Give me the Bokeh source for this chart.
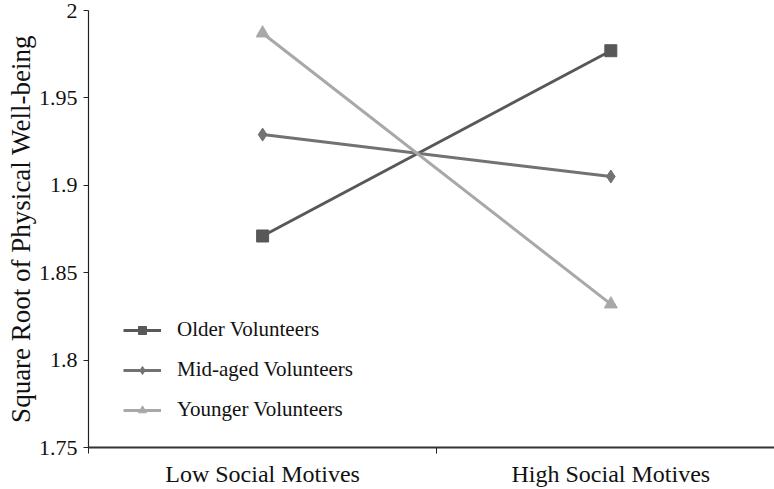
from bokeh.plotting import figure
from bokeh.models import Range1d, FixedTicker, Legend, LegendItem
from bokeh.embed import file_html
from bokeh.resources import INLINE

categories = ["Low Social Motives", "High Social Motives"]
older = [1.871, 1.977]
mid_aged = [1.929, 1.905]
younger = [1.987, 1.832]
y_ticks = [1.75, 1.8, 1.85, 1.9, 1.95, 2.0]
y_tick_labels = ["1.75", "1.8", "1.85", "1.9", "1.95", "2"]
series_names = ["Older Volunteers", "Mid-aged Volunteers", "Younger Volunteers"]

FONT = "Liberation Serif"

x_pos = [i + 0.5 for i in range(len(categories))]

p = figure(width=774, height=489, output_backend="svg", toolbar_location=None,
           x_range=Range1d(0, 1.97), y_range=Range1d(1.75, 2.0),
           min_border_left=88, min_border_right=0, min_border_top=10, min_border_bottom=0)
p.outline_line_color = None
p.xgrid.visible = False
p.ygrid.visible = False
p.background_fill_color = "white"

colors = ["#585858", "#727272", "#a8a8a8"]
markers = ["square", "diamond", "triangle"]
sizes = [12, 13, 13]
data = [older, mid_aged, younger]
items = []
for name, vals, c, m, s in zip(series_names, data, colors, markers, sizes):
    l = p.line(x_pos, vals, line_color=c, line_width=3)
    r = p.scatter(x_pos, vals, marker=m, size=s, fill_color=c, line_color=c)
    items.append(LegendItem(label=name, renderers=[l, r]))

legend = Legend(items=items, location=(35, 25), border_line_color=None,
                background_fill_alpha=0, padding=0, margin=0, spacing=15,
                glyph_width=38, glyph_height=20, label_height=20,
                label_standoff=16, label_text_font=FONT, label_text_font_size="21px",
                label_text_color="#111111")
p.add_layout(legend)

# y axis
p.yaxis.ticker = FixedTicker(ticks=y_ticks)
p.yaxis.major_label_overrides = {t: lab for t, lab in zip(y_ticks, y_tick_labels)}
p.yaxis.axis_label = "Square Root of Physical Well-being"
p.yaxis.axis_label_text_font = FONT
p.yaxis.axis_label_text_font_style = "normal"
p.yaxis.axis_label_text_font_size = "27px"
p.yaxis.axis_label_text_color = "#111111"
p.yaxis.axis_label_standoff = 0
p.yaxis.major_label_text_font = FONT
p.yaxis.major_label_text_font_size = "22px"
p.yaxis.major_label_text_color = "#111111"
p.yaxis.major_label_standoff = 6
p.yaxis.major_tick_out = 5
p.yaxis.major_tick_in = 0
p.yaxis.minor_tick_line_color = None
p.yaxis.axis_line_color = "#222222"
p.yaxis.axis_line_width = 1.2
p.yaxis.major_tick_line_color = "#222222"

# x axis: labels at category centres, ticks at boundaries
p.xaxis.ticker = FixedTicker(ticks=x_pos, minor_ticks=[0, 1, 2])
p.xaxis.major_label_overrides = {x: c for x, c in zip(x_pos, categories)}
p.xaxis.major_label_text_font = FONT
p.xaxis.major_label_text_font_size = "24px"
p.xaxis.major_label_text_color = "#111111"
p.xaxis.major_label_standoff = 7
p.xaxis.major_tick_out = 0
p.xaxis.major_tick_in = 0
p.xaxis.minor_tick_out = 6
p.xaxis.minor_tick_in = 0
p.xaxis.minor_tick_line_color = "#222222"
p.xaxis.axis_line_color = "#333333"
p.xaxis.axis_line_width = 2

open("out.html", "w").write(file_html(p, INLINE))
